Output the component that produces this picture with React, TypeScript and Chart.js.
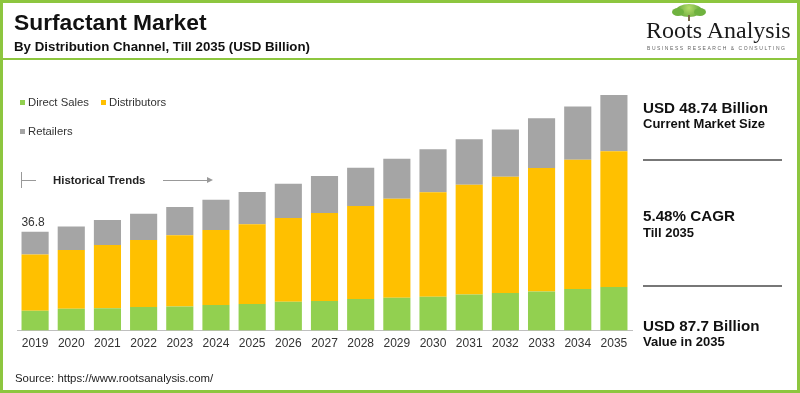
import React, { useEffect, useRef } from "react";
import { Chart, registerables } from "chart.js";

Chart.register(...registerables);

const years = ["2019","2020","2021","2022","2023","2024","2025","2026","2027","2028","2029","2030","2031","2032","2033","2034","2035"];
const directSales = [7.4, 8.1, 8.3, 8.8, 9.0, 9.5, 9.9, 10.7, 11.0, 11.8, 12.2, 12.6, 13.4, 14.0, 14.6, 15.5, 16.2];
const distributors = [20.9, 21.9, 23.6, 24.9, 26.5, 28.0, 29.7, 31.2, 32.8, 34.6, 36.9, 38.9, 40.9, 43.3, 45.9, 48.1, 50.6];
const retailers = [8.5, 8.8, 9.3, 9.8, 10.5, 11.2, 12.0, 12.8, 13.8, 14.2, 14.9, 16.0, 16.9, 17.6, 18.6, 19.8, 20.9];
const firstLabel = "36.8";

const GREEN = "#92d050";
const YELLOW = "#ffc000";
const GRAY = "#a5a5a5";
const FONT = "'Liberation Sans', Arial, sans-serif";

const labelPlugin = {
  id: "firstLabel",
  afterDatasetsDraw(chart: any) {
    const meta = chart.getDatasetMeta(2);
    const bar = meta.data[0];
    if (!bar) return;
    const ctx = chart.ctx;
    ctx.save();
    ctx.font = `12px ${FONT}`;
    ctx.fillStyle = "#333";
    ctx.textAlign = "center";
    ctx.textBaseline = "bottom";
    ctx.fillText(firstLabel, bar.x - 2, bar.y - 3);
    ctx.restore();
  },
};

function ChartCanvas() {
  const ref = useRef<HTMLCanvasElement | null>(null);
  useEffect(() => {
    if (!ref.current) return;
    Chart.defaults.font.family = FONT;
    const chart = new Chart(ref.current, {
      type: "bar",
      data: {
        labels: years,
        datasets: [
          { label: "Direct Sales", data: directSales, backgroundColor: GREEN, borderWidth: 0 },
          { label: "Distributors", data: distributors, backgroundColor: YELLOW, borderWidth: 0 },
          { label: "Retailers", data: retailers, backgroundColor: GRAY, borderWidth: 0 },
        ],
      },
      options: {
        animation: false,
        responsive: false,
        maintainAspectRatio: false,
        layout: { padding: { left: 17, right: 168, top: 62, bottom: 36 } },
        plugins: { legend: { display: false }, tooltip: { enabled: false } },
        datasets: { bar: { categoryPercentage: 1, barPercentage: 0.75 } },
        scales: {
          x: {
            stacked: true,
            grid: { display: false, drawTicks: false },
            border: { display: true, color: "#bfbfbf", width: 1 },
            ticks: { color: "#333", font: { size: 12, family: FONT }, padding: 6, maxRotation: 0, autoSkip: false },
          },
          y: { stacked: true, display: false, min: 0, max: 100 },
        },
      },
      plugins: [labelPlugin],
    });
    return () => chart.destroy();
  }, []);
  return <canvas ref={ref} width={800} height={393} style={{ position: "absolute", left: 0, top: 0, width: 800, height: 393 }} />;
}

const abs = (s: React.CSSProperties): React.CSSProperties => ({ position: "absolute", ...s });

export default function App() {
  const green = "#8dc63f";
  return (
    <div style={{ position: "fixed", left: 0, top: 0, width: 800, height: 393, background: "#fff", overflow: "hidden", fontFamily: FONT, color: "#111" }}>
      <ChartCanvas />
      {/* frame */}
      <div style={abs({ left: 0, top: 0, width: 800, height: 393, boxSizing: "border-box", border: `3px solid ${green}`, pointerEvents: "none" })} />
      <div style={abs({ left: 0, top: 58, width: 800, height: 2, background: green })} />
      {/* title */}
      <div style={abs({ left: 14, top: 9, fontSize: 22.8, fontWeight: "bold", lineHeight: "27px", whiteSpace: "nowrap" })}>Surfactant Market</div>
      <div style={abs({ left: 14, top: 39, fontSize: 13.3, fontWeight: "bold", lineHeight: "16px", whiteSpace: "nowrap" })}>By Distribution Channel, Till 2035 (USD Billion)</div>
      {/* logo */}
      <div style={abs({ left: 676, top: 4, width: 26, height: 13, borderRadius: "50%", background: "radial-gradient(circle at 50% 30%, #b5dd6a, #4f9a2c)" })} />
      <div style={abs({ left: 672, top: 8, width: 12, height: 8, borderRadius: "50%", background: "#6fb23f" })} />
      <div style={abs({ left: 694, top: 8, width: 12, height: 8, borderRadius: "50%", background: "#6fb23f" })} />
      <div style={abs({ left: 688, top: 15, width: 2, height: 6, background: "#7a6a4a" })} />
      <div style={abs({ left: 646, top: 17, fontSize: 24, fontFamily: "'Liberation Serif', 'DejaVu Serif', serif", color: "#1a1a1a", lineHeight: "26px", whiteSpace: "nowrap" })}>Roots Analysis</div>
      <div style={abs({ left: 647, top: 45, fontSize: 5, letterSpacing: 1.55, color: "#666", lineHeight: "6px", whiteSpace: "nowrap" })}>BUSINESS RESEARCH &amp; CONSULTING</div>
      {/* legend */}
      <div style={abs({ left: 20, top: 100, width: 5, height: 5, background: GREEN })} />
      <div style={abs({ left: 28, top: 95, fontSize: 11.3, color: "#333", lineHeight: "14px", whiteSpace: "nowrap" })}>Direct Sales</div>
      <div style={abs({ left: 101, top: 100, width: 5, height: 5, background: YELLOW })} />
      <div style={abs({ left: 109, top: 95, fontSize: 11.3, color: "#333", lineHeight: "14px", whiteSpace: "nowrap" })}>Distributors</div>
      <div style={abs({ left: 20, top: 129, width: 5, height: 5, background: GRAY })} />
      <div style={abs({ left: 28, top: 124, fontSize: 11.3, color: "#333", lineHeight: "14px", whiteSpace: "nowrap" })}>Retailers</div>
      {/* historical trends */}
      <div style={abs({ left: 21, top: 172, width: 1, height: 16, background: "#999" })} />
      <div style={abs({ left: 21, top: 180, width: 15, height: 1, background: "#999" })} />
      <div style={abs({ left: 53, top: 173, fontSize: 11.4, fontWeight: "bold", color: "#222", lineHeight: "14px", whiteSpace: "nowrap" })}>Historical Trends</div>
      <div style={abs({ left: 163, top: 180, width: 47, height: 1, background: "#999" })} />
      <div style={abs({ left: 207, top: 177, width: 0, height: 0, borderTop: "3px solid transparent", borderBottom: "3px solid transparent", borderLeft: "6px solid #999" })} />
      {/* right panel */}
      <div style={abs({ left: 643, top: 99, fontSize: 15.2, fontWeight: "bold", lineHeight: "18px", whiteSpace: "nowrap" })}>USD 48.74 Billion</div>
      <div style={abs({ left: 643, top: 116, fontSize: 13, fontWeight: "bold", lineHeight: "16px", whiteSpace: "nowrap" })}>Current Market Size</div>
      <div style={abs({ left: 643, top: 159, width: 139, height: 2, background: "#777" })} />
      <div style={abs({ left: 643, top: 207, fontSize: 15.2, fontWeight: "bold", lineHeight: "18px", whiteSpace: "nowrap" })}>5.48% CAGR</div>
      <div style={abs({ left: 643, top: 225, fontSize: 13, fontWeight: "bold", lineHeight: "16px", whiteSpace: "nowrap" })}>Till 2035</div>
      <div style={abs({ left: 643, top: 285, width: 139, height: 2, background: "#777" })} />
      <div style={abs({ left: 643, top: 317, fontSize: 15.2, fontWeight: "bold", lineHeight: "18px", whiteSpace: "nowrap" })}>USD 87.7 Billion</div>
      <div style={abs({ left: 643, top: 334, fontSize: 13, fontWeight: "bold", lineHeight: "16px", whiteSpace: "nowrap" })}>Value in 2035</div>
      {/* source */}
      <div style={abs({ left: 15, top: 371, fontSize: 11.4, color: "#222", lineHeight: "14px", whiteSpace: "nowrap" })}>Source: https://www.rootsanalysis.com/</div>
    </div>
  );
}
